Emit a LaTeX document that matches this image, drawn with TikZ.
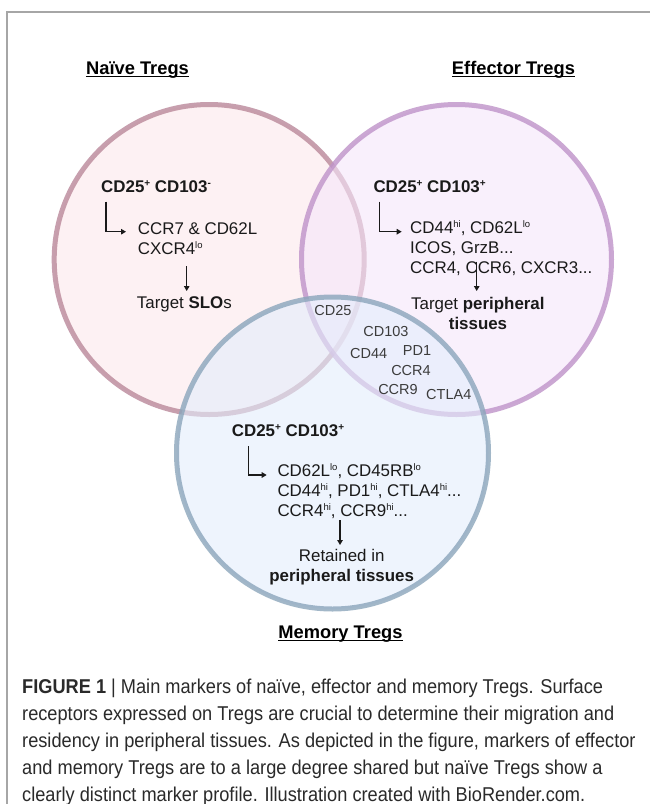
\documentclass[tikz,border=0pt]{standalone}
\usepackage{fontspec}
\setmainfont{Liberation Sans}
\newfontfamily\capfont[FakeStretch=0.91]{Liberation Sans}
\usetikzlibrary{arrows.meta}
\definecolor{naiveline}{HTML}{BA889A}
\definecolor{naivefill}{HTML}{FCE8EB}
\definecolor{effline}{HTML}{BF93C9}
\definecolor{efffill}{HTML}{F5E6FA}
\definecolor{memline}{HTML}{8BA5BB}
\definecolor{memfill}{HTML}{E3EDFC}
\definecolor{txt}{HTML}{1A1A1A}
\definecolor{sharedtxt}{HTML}{3C3C3C}
\definecolor{framegray}{HTML}{A6A6A6}
\definecolor{captxt}{HTML}{2A2A2A}
\newcommand\supx[1]{\raisebox{5.6pt}{\fontsize{9.5}{9.5}\selectfont #1}}
\newcommand\supb[1]{\raisebox{5.2pt}{\fontsize{10}{10}\selectfont\bfseries #1}}
\begin{document}
\begin{tikzpicture}[x=1pt,y=-1pt,
  maintext/.style={font=\fontsize{16.9}{20}\selectfont, text=txt, inner sep=0pt, anchor=base west},
  boldtext/.style={font=\fontsize{16.9}{20}\selectfont\bfseries, text=txt, inner sep=0pt, anchor=base west},
  centertext/.style={font=\fontsize{16.9}{20}\selectfont, text=txt, inner sep=0pt, anchor=base},
  shared/.style={font=\fontsize{14.5}{14.5}\selectfont, text=sharedtxt, inner sep=0pt},
  title/.style={font=\fontsize{18.3}{20}\selectfont\bfseries, text=black, inner sep=0pt, anchor=base},
  uline/.style={line width=1.2pt, draw=black},
  venn/.style={line width=5pt, fill opacity=0.6, draw opacity=0.8},
  flow/.style={line width=1.4pt, draw=txt, -{Triangle[length=5pt,width=5.5pt]}},
  captionline/.style={font=\capfont\fontsize{20}{27}\selectfont, text=captxt, inner sep=0pt, anchor=base west}
]
\useasboundingbox (0,0) rectangle (650,804);
\fill[white] (0,0) rectangle (650,804);
% frame
\draw[framegray, line width=1.2pt] (7,804) -- (7,12) -- (650,12);

% circles
\draw[venn, draw=naiveline, fill=naivefill] (209.2,259.5) circle[radius=155pt];
\draw[venn, draw=effline, fill=efffill] (456.5,259.5) circle[radius=155pt];
\draw[venn, draw=memline, fill=memfill] (332.5,453) circle[radius=156pt];

% titles
\node[title] (t_naive) at (137.5,74) {Naïve Tregs};
\node[title] (t_eff) at (513.5,74) {Effector Tregs};
\node[title] (t_mem) at (340.5,638) {Memory Tregs};
\draw[uline] ([yshift=-2.5pt]t_naive.base west) -- ([yshift=-2.5pt]t_naive.base east);
\draw[uline] ([yshift=-2.5pt]t_eff.base west) -- ([yshift=-2.5pt]t_eff.base east);
\draw[uline] ([yshift=-2.5pt]t_mem.base west) -- ([yshift=-2.5pt]t_mem.base east);

% naive
\node[boldtext] (n_marker) at (101,192) {CD25\supb{+} CD103\supb{-}};
\node[maintext] (n_list1) at (137.7,234) {CCR7 \& CD62L};
\node[maintext] (n_list2) at (137.7,254.5) {CXCR4\supx{lo}};
\node[maintext] (n_target) at (136.7,308) {Target \textbf{SLO}s};
\coordinate (n_e0) at (106,201.7);
\coordinate (n_e1) at (126,231.7);
\draw[flow] (n_e0) |- (n_e1);
\coordinate (n_d0) at (186.7,266);
\coordinate (n_d1) at (186.7,291);
\draw[flow] (n_d0) -- (n_d1);

% effector
\node[boldtext] (e_marker) at (373.3,192) {CD25\supb{+} CD103\supb{+}};
\node[maintext] (e_list1) at (410,233) {CD44\supx{hi}, CD62L\supx{lo}};
\node[maintext] (e_list2) at (410,253.5) {ICOS, GrzB...};
\node[maintext] (e_list3) at (410,273.5) {CCR4, CCR6, CXCR3...};
\node[maintext] (e_target1) at (411,309) {Target \textbf{peripheral}};
\node[centertext, font=\fontsize{16.9}{20}\selectfont\bfseries] (e_target2) at (478,329) {tissues};
\coordinate (e_e0) at (379.3,201.7);
\coordinate (e_e1) at (401.7,231.7);
\draw[flow] (e_e0) |- (e_e1);
\coordinate (e_d0) at (476.7,261.7);
\coordinate (e_d1) at (476.7,291);
\draw[flow] (e_d0) -- (e_d1);

% memory
\node[boldtext] (m_marker) at (231.7,436) {CD25\supb{+} CD103\supb{+}};
\node[maintext] (m_list1) at (277.3,476) {CD62L\supx{lo}, CD45RB\supx{lo}};
\node[maintext] (m_list2) at (277.3,496) {CD44\supx{hi}, PD1\supx{hi}, CTLA4\supx{hi}...};
\node[maintext] (m_list3) at (277.3,516) {CCR4\supx{hi}, CCR9\supx{hi}...};
\node[centertext] (m_target1) at (341.7,561) {Retained in};
\node[centertext, font=\fontsize{16.9}{20}\selectfont\bfseries] (m_target2) at (341.7,581) {peripheral tissues};
\coordinate (m_e0) at (248.3,446);
\coordinate (m_e1) at (266.7,475);
\draw[flow] (m_e0) |- (m_e1);
\coordinate (m_d0) at (340,520);
\coordinate (m_d1) at (340,545);
\draw[flow] (m_d0) -- (m_d1);

% shared markers
\node[shared] (s_cd25) at (333,311) {CD25};
\node[shared] (s_cd103) at (386,331.7) {CD103};
\node[shared] (s_cd44) at (368.7,353.3) {CD44};
\node[shared] (s_pd1) at (417,351) {PD1};
\node[shared] (s_ccr4) at (411,371) {CCR4};
\node[shared] (s_ccr9) at (398,389.3) {CCR9};
\node[shared] (s_ctla4) at (448.8,394.3) {CTLA4};

% caption
\node[captionline] (c1) at (22,693) {\textbf{FIGURE 1} | Main markers of naïve, effector and memory Tregs. Surface};
\node[captionline] (c2) at (22,720) {receptors expressed on Tregs are crucial to determine their migration and};
\node[captionline] (c3) at (22,747) {residency in peripheral tissues. As depicted in the figure, markers of effector};
\node[captionline] (c4) at (22,774) {and memory Tregs are to a large degree shared but naïve Tregs show a};
\node[captionline] (c5) at (22,801) {clearly distinct marker profile. Illustration created with BioRender.com.};
\end{tikzpicture}
\end{document}
